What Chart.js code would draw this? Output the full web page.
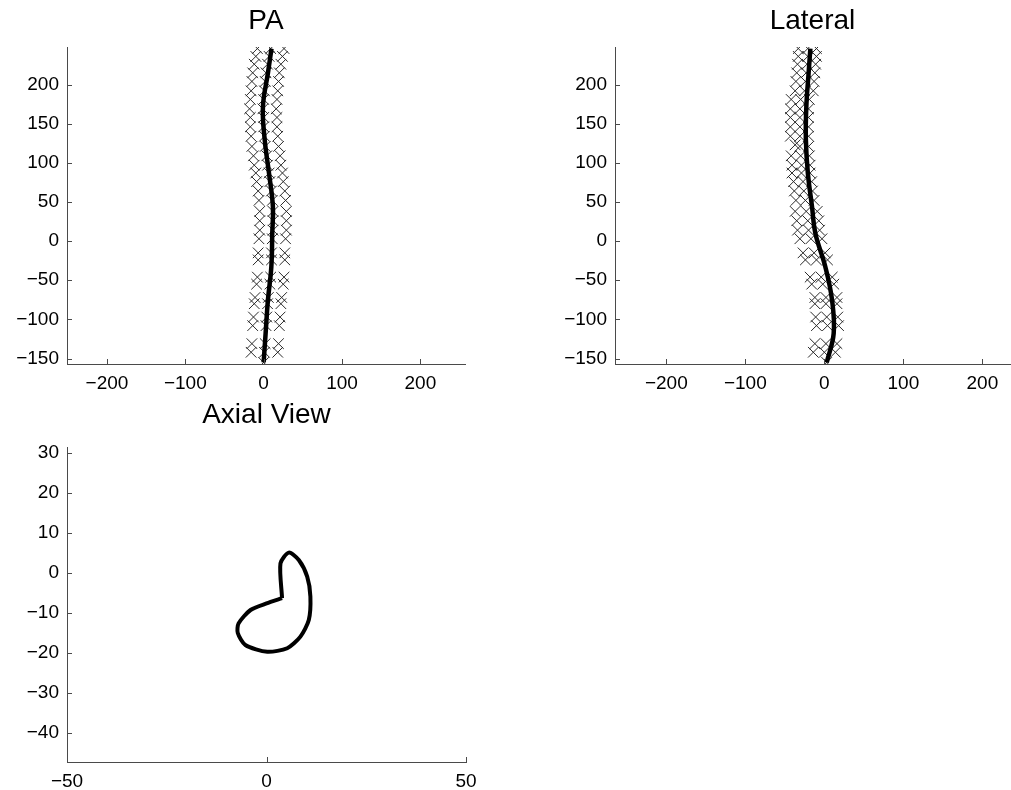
<!DOCTYPE html>
<html>
<head>
<meta charset="utf-8">
<script src="https://cdn.jsdelivr.net/npm/chart.js@4.4.1/dist/chart.umd.min.js"></script>
<style>
    html, body { margin: 0; padding: 0; background: #fff; overflow: hidden; }
    .panel { position: absolute; }
</style>
</head>
<body>
<div class="panel" style="left:0px;top:0px;width:480px;height:395px"><canvas id="paChart"></canvas></div>
<div class="panel" style="left:540px;top:0px;width:480px;height:395px"><canvas id="latChart"></canvas></div>
<div class="panel" style="left:0px;top:396px;width:480px;height:394px"><canvas id="axialChart"></canvas></div>
<script>
// tick labels of each panel
const spineYTicks = [-150, -100, -50, 0, 50, 100, 150, 200]
const spineXTicks = [-200, -100, 0, 100, 200]
const axialXTicks = [-50, 0, 50]
const axialYTicks = [-40, -30, -20, -10, 0, 10, 20, 30]

// PA view: fitted curve and marked points [x, y]
const paCurve = [[10, 246], [5.5, 215], [-0.9, 172], [1.3, 130], [6.8, 87], [11.8, 44], [11, 10], [9.8, -33], [5.5, -75], [2.5, -118], [0, -155]]
const paMarkers = [
    [-8, 246], [9, 246], [26, 246], [-10, 236], [7, 236], [24, 236],
    [-12, 226], [5, 226], [22, 226], [-14, 215], [3, 215], [20, 215],
    [-15, 204], [2, 204], [19, 204], [-16, 192], [1, 192], [18, 192],
    [-17, 181], [0, 181], [17, 181], [-18, 169], [-1, 169], [16, 169],
    [-17, 158], [0, 158], [17, 158], [-17, 146], [0, 146], [17, 146],
    [-16, 134], [1, 134], [18, 134], [-15, 121], [2, 121], [19, 121],
    [-13, 109], [4, 109], [21, 109], [-12, 97], [5, 97], [22, 97],
    [-10, 87], [7, 87], [24, 87], [-9, 76], [8, 76], [25, 76],
    [-7, 64], [10, 64], [27, 64], [-6, 52], [11, 52], [28, 52],
    [-5, 38], [12, 38], [29, 38], [-5, 26], [12, 26], [29, 26],
    [-5, 14], [12, 14], [29, 14], [-6, 3], [11, 3], [28, 3],
    [-7, -15], [10, -15], [27, -15], [-7, -24], [10, -24], [27, -24],
    [-8, -46], [9, -46], [26, -46], [-9, -55], [8, -55], [25, -55],
    [-11, -72], [6, -72], [23, -72], [-12, -80], [5, -80], [22, -80],
    [-13, -97], [4, -97], [21, -97], [-14, -108], [3, -108], [20, -108],
    [-15, -131], [2, -131], [19, -131], [-16, -142], [1, -142], [18, -142],
    [0, -155]
]

// Lateral view
const latCurve = [[-17.7, 246], [-19.9, 215], [-22.8, 172], [-23.4, 130], [-20.9, 87], [-15.6, 44], [-11.4, 10], [1.3, -33], [9.7, -75], [11.8, -118], [3, -155]]
const latMarkers = [
    [-33, 246], [-21, 246], [-10, 246], [-33, 236], [-21, 236], [-10, 236],
    [-34, 226], [-22, 226], [-11, 226], [-35, 215], [-23, 215], [-12, 215],
    [-36, 204], [-24, 204], [-13, 204], [-37, 192], [-25, 192], [-14, 192],
    [-42, 181], [-30, 181], [-19, 181], [-43, 169], [-31, 169], [-20, 169],
    [-43, 158], [-31, 158], [-20, 158], [-43, 146], [-31, 146], [-20, 146],
    [-43, 134], [-31, 134], [-20, 134], [-37, 123], [-31, 121], [-20, 121],
    [-42, 109], [-30, 109], [-19, 109], [-41, 97], [-29, 97], [-18, 97],
    [-41, 87], [-29, 87], [-18, 87], [-39, 76], [-27, 76], [-16, 76],
    [-38, 64], [-26, 64], [-15, 64], [-36, 52], [-24, 52], [-13, 52],
    [-37, 38], [-23, 38], [-9, 38], [-35, 26], [-21, 26], [-7, 26],
    [-34, 14], [-20, 14], [-6, 14], [-31, 3], [-17, 3], [-3, 3],
    [-27, -15], [-13, -15], [1, -15], [-24, -24], [-10, -24], [4, -24],
    [-18, -46], [-4, -46], [10, -46], [-16, -55], [-2, -55], [12, -55],
    [-12, -72], [2, -72], [16, -72], [-12, -80], [2, -80], [16, -80],
    [-11, -97], [3, -97], [17, -97], [-10, -108], [4, -108], [18, -108],
    [-12, -131], [2, -131], [16, -131], [-14, -142], [0, -142], [14, -142],
    [3, -155]
]

// Axial view outline
const axialLoop = [[3.9, -6.3], [3.5, 2.4], [5.6, 5.1], [8.1, 3.25], [10.2, -0.9], [11, -5.9], [10.6, -11.75], [8.5, -15.9], [5.2, -18.8], [0.2, -19.7], [-5.3, -18], [-7.2, -15], [-7, -12.6], [-4, -9.25], [0, -7.6], [3.9, -6.3]]

const FONT = '"Liberation Sans", Arial, Helvetica, sans-serif'
const AXIS_COLOR = '#4a4a4a'

const toXY = (arr) => arr.map(p => ({ x: p[0], y: p[1] }))
const fmtTick = (v) => v < 0 ? '\u2212' + Math.abs(v) : String(v)

// MATLAB style tick marks pointing into the plot
const inwardTicks = {
    id: 'inwardTicks',
    afterDatasetsDraw(chart) {
        const { ctx, chartArea: a, scales: { x, y } } = chart
        ctx.save()
        ctx.strokeStyle = AXIS_COLOR
        ctx.lineWidth = 1
        ctx.beginPath()
        x.ticks.forEach(t => {
            const px = Math.round(x.getPixelForValue(t.value)) + 0.5
            ctx.moveTo(px, a.bottom)
            ctx.lineTo(px, a.bottom - 5)
        })
        y.ticks.forEach(t => {
            const py = Math.round(y.getPixelForValue(t.value)) + 0.5
            ctx.moveTo(a.left, py)
            ctx.lineTo(a.left + 5, py)
        })
        ctx.stroke()
        ctx.restore()
    }
}

const makeAxis = (min, max, ticks, size, isX) => ({
    type: 'linear',
    position: isX ? 'bottom' : 'left',
    min: min,
    max: max,
    grid: { display: false, drawTicks: false },
    border: { display: true, color: AXIS_COLOR, width: 1 },
    ticks: {
        color: '#000',
        font: { family: FONT, size: 19 },
        padding: 8,
        maxRotation: 0,
        callback: fmtTick
    },
    afterBuildTicks: (scale) => { scale.ticks = ticks.map(v => ({ value: v })) },
    afterFit: (scale) => {
        // keep the plot area fixed, labels may hang over
        scale.paddingLeft = 0
        scale.paddingRight = 0
        scale.paddingTop = 0
        scale.paddingBottom = 0
        if (isX) scale.height = size
        else scale.width = size
    }
})

const makePanel = (id, cfg) => {
    new Chart(document.getElementById(id), {
        type: 'scatter',
        data: { datasets: cfg.datasets },
        options: {
            responsive: true,
            maintainAspectRatio: false,
            animation: false,
            events: [],
            layout: { padding: { left: 0, right: cfg.padRight, top: 0, bottom: 0 } },
            plugins: {
                legend: { display: false },
                tooltip: { enabled: false },
                title: {
                    display: true,
                    fullSize: false,
                    text: cfg.title,
                    color: '#000',
                    font: { family: FONT, size: 28, weight: 'normal' },
                    padding: cfg.titlePad
                }
            },
            scales: {
                x: makeAxis(cfg.xMin, cfg.xMax, cfg.xTicks, cfg.xHeight, true),
                y: makeAxis(cfg.yMin, cfg.yMax, cfg.yTicks, cfg.yWidth, false)
            }
        },
        plugins: [inwardTicks]
    })
}

const curveSet = (pts, width) => ({
    data: toXY(pts),
    showLine: true,
    borderColor: '#000',
    borderWidth: width,
    tension: 0.4,
    pointRadius: 0,
    fill: false
})

const markerSet = (pts) => ({
    data: toXY(pts),
    showLine: false,
    pointStyle: 'crossRot',
    pointRadius: 7.5,
    borderColor: '#2a2a2a',
    borderWidth: 1
})

makePanel('paChart', {
    title: 'PA',
    titlePad: { top: 4, bottom: 9.4 },
    padRight: 15,
    xMin: -251, xMax: 257, xTicks: spineXTicks, xHeight: 31,
    yMin: -157, yMax: 248, yTicks: spineYTicks, yWidth: 67,
    datasets: [curveSet(paCurve, 4.5), markerSet(paMarkers)]
})

makePanel('latChart', {
    title: 'Lateral',
    titlePad: { top: 4, bottom: 9.4 },
    padRight: 10,
    xMin: -265, xMax: 235, xTicks: spineXTicks, xHeight: 31,
    yMin: -157, yMax: 248, yTicks: spineYTicks, yWidth: 75,
    datasets: [curveSet(latCurve, 4.5), markerSet(latMarkers)]
})

makePanel('axialChart', {
    title: 'Axial View',
    titlePad: { top: 2, bottom: 15.4 },
    padRight: 14,
    xMin: -50, xMax: 50, xTicks: axialXTicks, xHeight: 28,
    yMin: -47.25, yMax: 31.5, yTicks: axialYTicks, yWidth: 67,
    datasets: [Object.assign(curveSet(axialLoop, 4), { tension: 0.25 })]
})
</script>
</body>
</html>
